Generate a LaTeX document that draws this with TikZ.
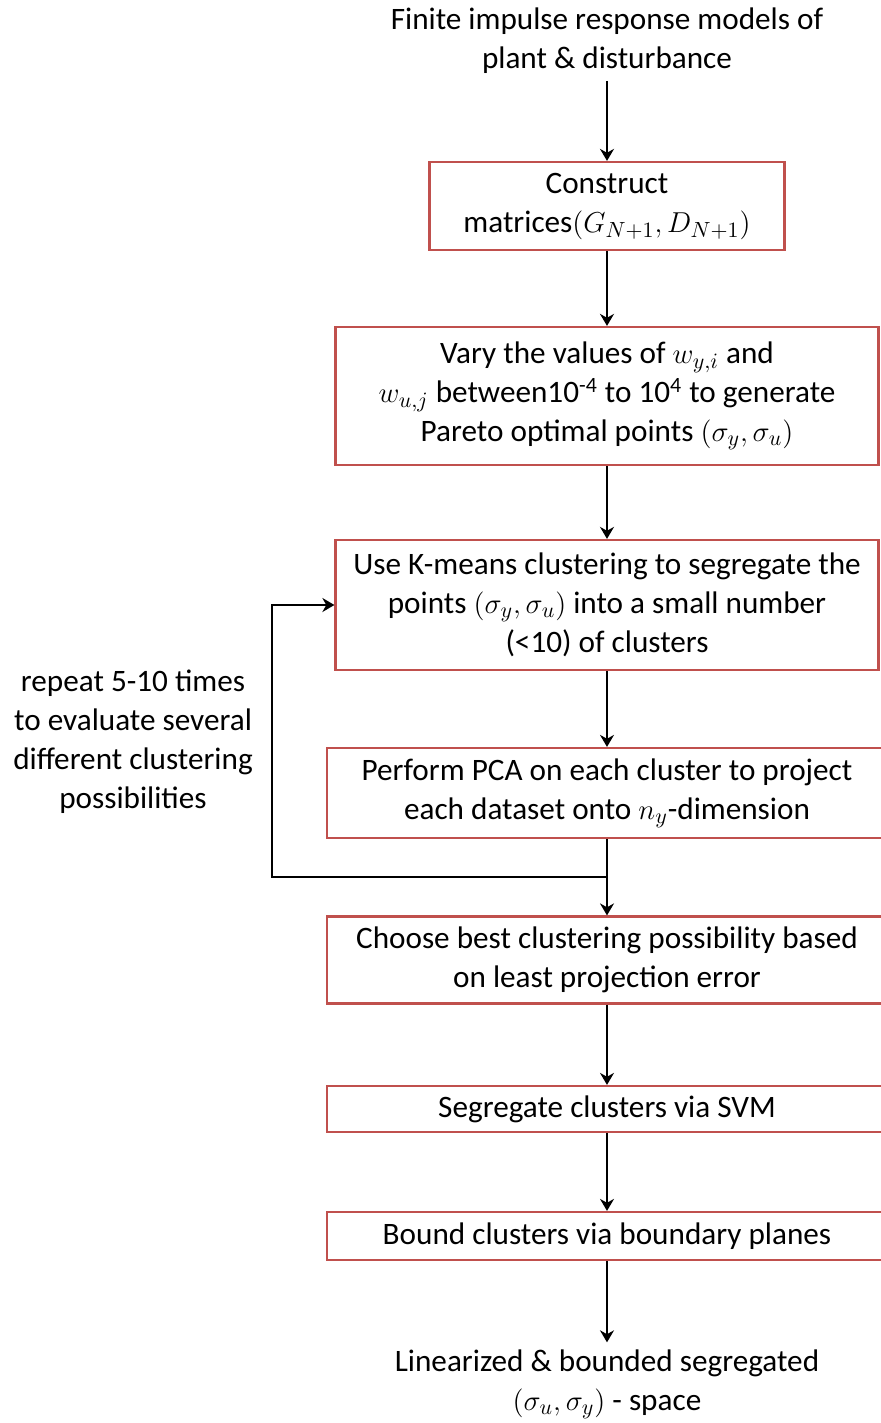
\documentclass[tikz,border=0pt]{standalone}
\usepackage{amsmath}
\usepackage{fontspec}
\setmainfont{Carlito}
\usetikzlibrary{arrows.meta}
\definecolor{boxred}{RGB}{192,80,77}

\begin{document}
\begin{tikzpicture}
  [x=0.5pt,y=-0.5pt,
   every node/.style={font=\fontsize{15.6}{19.5}\selectfont,align=center},
   box/.style={draw=boxred,line width=1.1pt,inner sep=0pt},
   flow/.style={-{Stealth[length=6pt,width=7pt]},line width=1.4pt}]
  \useasboundingbox (0,0) rectangle (881,1423);
  \node (fir) at (607,41) {Finite impulse response models of\\plant \& disturbance};
  \node[box,minimum width=177.5pt,minimum height=44pt] (construct) at (607,206)
    {Construct\\matrices$(G_{N+1},D_{N+1})$};
  \node[box,minimum width=271.5pt,minimum height=69pt] (vary) at (607,396)
    {Vary the values of $w_{y,i}$ and\\$w_{u,j}$ between10\textsuperscript{-4} to 10\textsuperscript{4} to generate\\Pareto optimal points $(\sigma_y,\sigma_u)$};
  \node[box,minimum width=271.5pt,minimum height=65pt] (kmeans) at (607,605)
    {Use K-means clustering to segregate the\\points $(\sigma_y,\sigma_u)$ into a small number\\(<10) of clusters};
  \node[box,minimum width=280pt,minimum height=45pt] (pca) at (607,793)
    {Perform PCA on each cluster to project\\each dataset onto $n_y$-dimension};
  \node[box,minimum width=280pt,minimum height=43.5pt] (choose) at (607,960)
    {Choose best clustering possibility based\\on least projection error};
  \node[box,minimum width=280pt,minimum height=23pt] (svm) at (607,1109)
    {Segregate clusters via SVM};
  \node[box,minimum width=280pt,minimum height=24pt] (bound) at (607,1236)
    {Bound clusters via boundary planes};
  \node (out) at (607,1384) {Linearized \& bounded segregated\\$(\sigma_u,\sigma_y)$ - space};
  \node (rep) at (133,742) {repeat 5-10 times\\to evaluate several\\different clustering\\possibilities};
  % main flow
  \draw[flow] (fir) -- (construct);
  \draw[flow] (construct) -- (vary);
  \draw[flow] (vary) -- (kmeans);
  \draw[flow] (kmeans) -- (pca);
  \draw[flow] (pca) -- (choose);
  \draw[flow] (choose) -- (svm);
  \draw[flow] (svm) -- (bound);
  \draw[flow] (bound) -- (out);
  % loop back
  \coordinate (jn) at (607,877);
  \coordinate (lp) at (272,877);
  \draw[flow] (jn) -- (lp) |- (kmeans.west);
\end{tikzpicture}
\end{document}
